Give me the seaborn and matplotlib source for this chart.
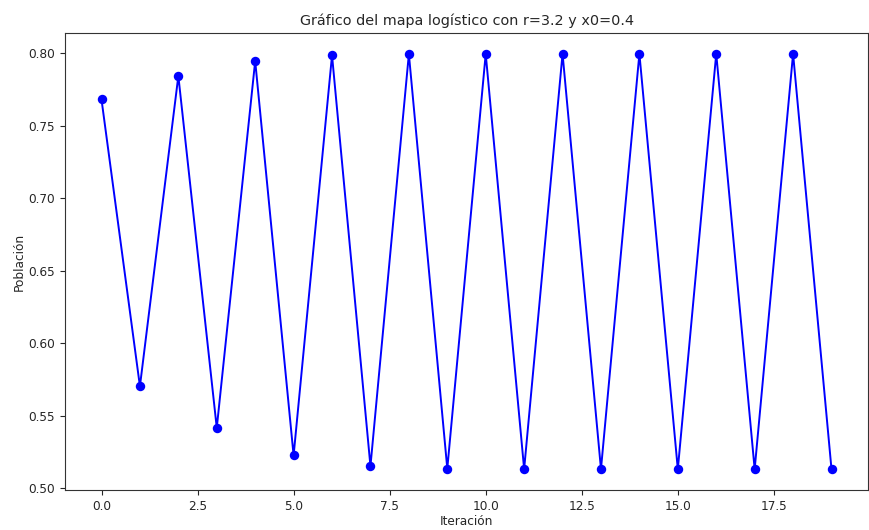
import matplotlib
matplotlib.use("Agg")
import matplotlib.pyplot as plt
import seaborn as sns
import pandas as pd

iteraciones = list(range(20))
poblacion = [0.768, 0.5702, 0.7842, 0.5415, 0.7945, 0.5225, 0.7984, 0.5151,
             0.7993, 0.5134, 0.7994, 0.5131, 0.7995, 0.5131, 0.7995, 0.5130,
             0.7995, 0.5130, 0.7995, 0.5130]
titulo = "Gráfico del mapa logístico con r=3.2 y x0=0.4"

sns.set_style("ticks")
plt.rcParams["font.family"] = ["DejaVu Sans"]
plt.rcParams["font.size"] = 8.7

df = pd.DataFrame({"Iteración": iteraciones, "Población": poblacion})

fig = plt.figure(figsize=(8.69, 5.30), dpi=100)
ax = fig.add_axes([65/869, 1 - 490/530, (868-65)/869, (490-33)/530])
sns.lineplot(data=df, x="Iteración", y="Población", ax=ax, color="blue",
             marker="o", markersize=6.8, markeredgewidth=0, linewidth=1.4)
ax.set_title(titulo, fontsize=10.4)
ax.set_xlabel("Iteración", fontsize=8.7, labelpad=1.5)
ax.set_ylabel("Población", fontsize=8.7, labelpad=1.8)
ax.tick_params(labelsize=8.7, length=3.5)
ax.set_xticks([0, 2.5, 5, 7.5, 10, 12.5, 15, 17.5])
for s in ax.spines.values():
    s.set_visible(True)
    s.set_color("#333333")
fig.savefig("out.png", dpi=100)
